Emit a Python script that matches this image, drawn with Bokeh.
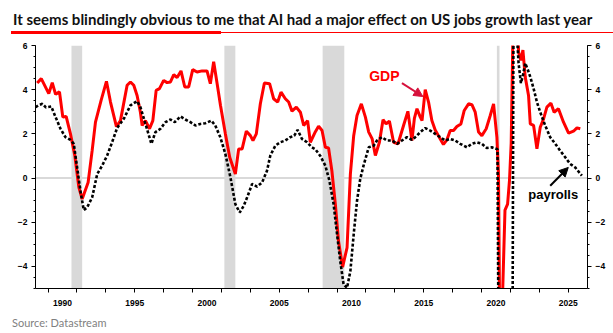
from bokeh.plotting import figure
from bokeh.models import (Range1d, LinearAxis, FixedTicker, SingleIntervalTicker,
                          BoxAnnotation, Span, Label, Arrow, NormalHead, Div)
from bokeh.layouts import column
from bokeh.embed import file_html
from bokeh.resources import INLINE

# ---------------- data ----------------
gdp_year = [1988.25, 1988.53, 1989.05, 1989.29, 1989.52, 1989.79, 1990.02, 1990.25, 1990.55, 1990.85,
            1991.13, 1991.36, 1991.77, 1992.05, 1992.28, 1992.67, 1993.04, 1993.32, 1993.73, 1994.01,
            1994.47, 1994.70, 1994.93, 1995.16, 1995.39, 1995.51, 1995.74, 1996.02, 1996.25, 1996.48,
            1996.71, 1997.00, 1997.24, 1997.47, 1997.70, 1997.93, 1998.20, 1998.46, 1998.73, 1999.01,
            1999.31, 1999.66, 2000.00, 2000.23, 2000.46, 2000.70, 2000.93, 2001.27, 2001.57, 2001.96,
            2002.19, 2002.43, 2002.72, 2003.00, 2003.18, 2003.41, 2003.69, 2003.97, 2004.33, 2004.61,
            2004.89, 2005.12, 2005.42, 2005.65, 2005.88, 2006.18, 2006.46, 2006.69, 2006.96, 2007.15,
            2007.50, 2007.72, 2007.96, 2008.19, 2008.41, 2008.64, 2008.88, 2009.10, 2009.38, 2009.69,
            2009.92, 2010.15, 2010.38, 2010.68, 2010.96, 2011.19, 2011.43, 2011.65, 2011.93, 2012.18,
            2012.39, 2012.62, 2012.91, 2013.22, 2013.60, 2013.90, 2014.18, 2014.35, 2014.53, 2014.76,
            2014.88, 2015.10, 2015.33, 2015.56, 2015.79, 2016.14, 2016.36, 2016.60, 2016.83, 2017.06,
            2017.29, 2017.57, 2017.80, 2018.10, 2018.33, 2018.56, 2018.79, 2019.02, 2019.32, 2019.60,
            2019.83, 2020.06, 2020.17, 2020.29, 2020.62, 2020.80, 2020.93, 2021.05, 2021.30, 2021.56,
            2021.72, 2021.86, 2022.02, 2022.25, 2022.37, 2022.60, 2022.83, 2023.06, 2023.29, 2023.52,
            2023.80, 2024.02, 2024.32, 2024.67, 2025.02, 2025.36, 2025.60, 2025.83]
gdp_val = [4.30, 4.50, 3.82, 4.32, 3.79, 3.90, 2.76, 2.79, 2.00, 1.02,
           -0.42, -0.95, -0.20, 1.24, 2.53, 3.52, 4.38, 3.44, 2.33, 2.60,
           4.20, 4.35, 4.20, 3.74, 2.98, 2.38, 2.60, 2.23, 2.60, 3.97,
           4.05, 4.42, 4.32, 4.35, 4.68, 4.55, 4.85, 4.12, 4.12, 4.91,
           4.80, 4.85, 4.85, 4.27, 5.26, 4.27, 3.30, 2.00, 0.94, 0.18,
           1.32, 1.32, 2.12, 1.92, 1.70, 2.00, 3.36, 4.30, 4.27, 3.59,
           3.44, 3.89, 3.59, 3.44, 3.03, 3.21, 2.98, 2.38, 2.60, 1.62,
           2.10, 2.35, 2.15, 1.39, 1.36, 0.33, -1.18, -2.85, -4.03, -3.15,
           0.18, 1.92, 2.83, 3.36, 2.76, 2.08, 1.77, 1.02, 1.62, 2.64,
           2.45, 2.58, 1.62, 1.55, 2.38, 3.02, 1.70, 2.70, 3.14, 2.76,
           2.60, 4.00, 3.44, 2.60, 2.18, 1.77, 1.52, 1.73, 2.15, 2.15,
           2.33, 2.45, 3.06, 3.36, 3.32, 2.98, 2.08, 1.92, 2.23, 2.83,
           3.36, 1.85, 0.18, -9.00, -1.45, -1.18, -0.12, 1.60, 12.00, 5.70,
           5.33, 5.79, 4.58, 3.74, 2.45, 2.38, 1.32, 2.30, 2.68, 3.21,
           3.39, 2.98, 3.14, 2.53, 2.03, 2.12, 2.27, 2.23]

pay_year = [1988.13, 1988.35, 1988.60, 1988.85, 1989.22, 1989.52, 1989.86, 1990.20, 1990.55, 1990.78,
            1991.01, 1991.24, 1991.47, 1991.70, 1992.05, 1992.40, 1992.74, 1993.09, 1993.43, 1993.78,
            1994.24, 1994.70, 1995.16, 1995.39, 1995.74, 1996.15, 1996.43, 1996.78, 1997.12, 1997.47,
            1997.77, 1998.16, 1998.50, 1998.85, 1999.20, 1999.54, 1999.88, 2000.30, 2000.57, 2000.92,
            2001.27, 2001.62, 2001.96, 2002.26, 2002.54, 2002.82, 2003.12, 2003.46, 2003.81, 2004.15,
            2004.38, 2004.73, 2005.07, 2005.42, 2005.76, 2006.04, 2006.27, 2006.57, 2006.92, 2007.26,
            2007.50, 2007.84, 2008.19, 2008.47, 2008.76, 2009.00, 2009.22, 2009.45, 2009.69, 2009.92,
            2010.15, 2010.38, 2010.60, 2010.83, 2011.19, 2011.54, 2011.76, 2012.10, 2012.45, 2012.80,
            2013.15, 2013.49, 2013.84, 2014.18, 2014.41, 2014.76, 2015.10, 2015.45, 2015.79, 2016.14,
            2016.48, 2016.83, 2017.17, 2017.52, 2017.99, 2018.33, 2018.67, 2019.02, 2019.36, 2019.71,
            2020.10, 2020.22, 2021.15, 2021.22, 2021.40, 2021.56, 2021.72, 2021.85, 2022.02, 2022.20,
            2022.37, 2022.60, 2022.83, 2023.06, 2023.40, 2023.75, 2024.10, 2024.44, 2024.79, 2025.13,
            2025.48, 2025.94]
pay_val = [3.21, 3.30, 3.36, 3.20, 3.24, 2.76, 2.23, 1.85, 1.73, 1.55,
           0.48, -0.58, -1.45, -1.33, -0.88, 0.18, 0.56, 1.02, 1.62, 2.27,
           2.68, 3.29, 3.48, 3.21, 2.45, 1.55, 2.08, 2.23, 2.53, 2.65,
           2.53, 2.79, 2.65, 2.53, 2.38, 2.45, 2.48, 2.60, 2.38, 1.85,
           1.09, 0.03, -1.18, -1.56, -1.26, -0.80, -0.27, -0.39, -0.20, 0.33,
           1.02, 1.47, 1.62, 1.70, 1.85, 1.92, 2.18, 1.77, 1.62, 1.39,
           1.30, 1.00, 0.56, -0.12, -1.18, -2.55, -3.76, -4.82, -4.97, -4.21,
           -2.55, -1.03, -0.05, 0.56, 1.39, 1.47, 1.70, 1.85, 1.70, 1.70,
           1.55, 1.70, 1.85, 1.73, 1.85, 2.08, 2.26, 2.15, 2.00, 1.85,
           1.70, 1.77, 1.70, 1.55, 1.39, 1.55, 1.62, 1.55, 1.36, 1.39,
           1.30, -13.00, -5.50, 10.00, 7.00, 5.20, 4.30, 4.60, 5.20, 4.90,
           4.58, 4.05, 3.44, 2.98, 2.38, 1.85, 1.55, 1.24, 0.94, 0.64,
           0.48, 0.11]

recession_start = [1990.62, 2001.20, 2008.00, 2020.06]
recession_end = [1991.36, 2001.96, 2009.50, 2020.24]

x_label_years = [1990, 1995, 2000, 2005, 2010, 2015, 2020, 2025]
x_minor_years = list(range(1989, 2027, 2))

title_text = "It seems blindingly obvious to me that AI had a major effect on US jobs growth last year"
source_text = "Source: Datastream"

# ---------------- figure ----------------
p = figure(width=613, height=273, x_range=Range1d(1988.13, 2026.33), y_range=Range1d(-5, 6),
           output_backend="svg", toolbar_location=None,
           min_border_left=35, min_border_right=26, min_border_top=5, min_border_bottom=25,
           margin=0)
p.outline_line_color = None
p.grid.visible = False
p.background_fill_color = "white"
p.border_fill_color = "white"

for s, e in zip(recession_start, recession_end):
    p.add_layout(BoxAnnotation(left=s, right=e, fill_color="#d9d9d9", fill_alpha=1.0,
                               line_color=None, level="underlay"))
p.add_layout(Span(location=0, dimension="width", line_color="#d9d9d9", line_width=2, level="underlay"))

p.line(gdp_year, gdp_val, line_color="#ff0000", line_width=3)
p.line(pay_year, pay_val, line_color="black", line_width=2.6, line_dash="3 2")

# axes
tick_font = "Liberation Sans"
def style_y(ax):
    ax.ticker = SingleIntervalTicker(interval=2, num_minor_ticks=4)
    ax.axis_line_color = "black"
    ax.major_tick_in = 0
    ax.major_tick_out = 4
    ax.minor_tick_in = 0
    ax.minor_tick_out = 2
    ax.major_label_text_font = tick_font
    ax.major_label_text_font_style = "bold"
    ax.major_label_text_font_size = "8.5px"
    ax.major_label_text_color = "black"
    ax.major_label_standoff = 4

style_y(p.yaxis[0])
right_ax = LinearAxis()
style_y(right_ax)
p.add_layout(right_ax, "right")

xa = p.xaxis[0]
xa.ticker = FixedTicker(ticks=x_label_years, minor_ticks=x_minor_years)
xa.axis_line_color = "black"
xa.major_tick_line_color = None
xa.minor_tick_in = 0
xa.minor_tick_out = 4
xa.minor_tick_line_color = "black"
xa.major_label_text_font = tick_font
xa.major_label_text_font_style = "bold"
xa.major_label_text_font_size = "8.5px"
xa.major_label_text_color = "black"
xa.major_label_standoff = 5

# annotations
p.add_layout(Label(x=2012.27, y=4.6, text="GDP", text_color="#ff0000", text_font=tick_font,
                   text_font_style="bold", text_font_size="14px", text_align="center",
                   text_baseline="middle"))
p.add_layout(Arrow(x_start=2013.49, y_start=4.3, x_end=2014.94, y_end=3.69,
                   line_color="#d6113c", line_width=2,
                   end=NormalHead(size=9, fill_color="#d6113c", line_color="#d6113c")))
p.add_layout(Label(x=2023.96, y=-0.76, text="payrolls", text_color="black", text_font=tick_font,
                   text_font_style="bold", text_font_size="13px", text_align="center",
                   text_baseline="middle"))
p.add_layout(Arrow(x_start=2023.75, y_start=-0.35, x_end=2025.0, y_end=0.48,
                   line_color="black", line_width=2,
                   end=NormalHead(size=9, fill_color="black", line_color="black")))

# title and source as HTML blocks
title_html = (
    '<div style="position:relative;width:613px;height:40px;">'
    '<div style="position:absolute;left:13px;top:10px;font-family:Lato;font-weight:700;'
    'font-size:15px;line-height:18px;color:#111111;white-space:nowrap;">' + title_text + '</div>'
    '<div style="position:absolute;left:11px;top:31px;width:210px;height:3px;background:#ff0000;"></div>'
    '<div style="position:absolute;left:221px;top:32px;width:392px;height:1px;background:#ff0000;"></div>'
    '</div>')
title_div = Div(text=title_html, width=613, height=40, margin=0)

source_html = (
    '<div style="position:relative;width:613px;height:20px;">'
    '<div style="position:absolute;left:12px;top:3px;font-family:Lato;font-size:11px;'
    'line-height:13px;color:#7f7f7f;white-space:nowrap;">' + source_text + '</div></div>')
source_div = Div(text=source_html, width=613, height=20, margin=0)

layout = column(title_div, p, source_div, spacing=0, margin=0)

open("out.html", "w").write(file_html(layout, INLINE))
